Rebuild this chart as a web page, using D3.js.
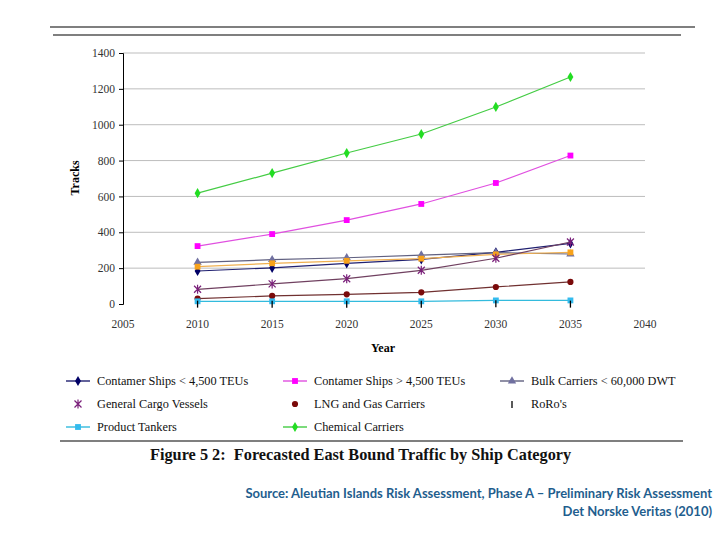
<!DOCTYPE html>
<html>
<head>
<meta charset="utf-8">
<script src="https://cdn.jsdelivr.net/npm/d3@7"></script>
<style>
body { margin: 0; background: #fff; }
svg { display: block; }
</style>
</head>
<body>
<svg id="chart" width="720" height="540"></svg>
<script>
// years on the x axis
var years = [2010, 2015, 2020, 2025, 2030, 2035];
var xTicks = [2005, 2010, 2015, 2020, 2025, 2030, 2035, 2040];
var yTicks = [0, 200, 400, 600, 800, 1000, 1200, 1400];

// series values (tracks)
var containerSmall = [184, 202, 227, 249, 288, 338];
var containerLarge = [323, 390, 468, 558, 675, 828];
var bulkCarriers   = [232, 247, 258, 273, 286, 279];
var generalCargo   = [82, 112, 141, 188, 255, 346];
var lngCarriers    = [30, 45, 54, 65, 95, 123];
var roros          = [2, 2, 2, 2, 4, 2];
var productTankers = [15, 15, 15, 15, 20, 20];
var chemical       = [618, 730, 842, 948, 1099, 1266];
var unlisted       = [208, 227, 241, 253, 277, 288];

var seriesNames = ["Contamer Ships < 4,500 TEUs", "Contamer Ships > 4,500 TEUs",
	"Bulk Carriers < 60,000 DWT", "General Cargo Vessels", "LNG and Gas Carriers",
	"RoRo's", "Product Tankers", "Chemical Carriers"];

var series = [
	{ name: seriesNames[0], values: containerSmall, color: "#000066", line: "#202070", shape: "diamond", legendLine: true },
	{ name: seriesNames[1], values: containerLarge, color: "#ff00ff", line: "#e050e0", shape: "square", legendLine: true },
	{ name: seriesNames[2], values: bulkCarriers, color: "#7070a0", line: "#606080", shape: "triangle", legendLine: true },
	{ name: null, values: unlisted, color: "#f7a21b", line: "#f0b050", shape: "square", legendLine: true },
	{ name: seriesNames[3], values: generalCargo, color: "#7a1f7a", line: "#704060", shape: "star", legendLine: false },
	{ name: seriesNames[4], values: lngCarriers, color: "#7a0a0a", line: "#703030", shape: "circle", legendLine: false },
	{ name: seriesNames[6], values: productTankers, color: "#33bbee", line: "#33bbdd", shape: "square", legendLine: true },
	{ name: seriesNames[5], values: roros, color: "#000000", line: null, shape: "tick", legendLine: false },
	{ name: seriesNames[7], values: chemical, color: "#22dd22", line: "#44cc44", shape: "diamond", legendLine: true }
];

var svg = d3.select("#chart");
var serif = "'Liberation Serif', 'Times New Roman', serif";

var x = d3.scaleLinear().domain([2005, 2040]).range([123, 645]);
var y = d3.scaleLinear().domain([0, 1400]).range([304, 53]);

// frame rules
svg.append("line").attr("x1", 50).attr("x2", 695).attr("y1", 27).attr("y2", 27)
	.attr("stroke", "#000").attr("stroke-width", 1.2);
svg.append("line").attr("x1", 53).attr("x2", 681).attr("y1", 35).attr("y2", 35)
	.attr("stroke", "#000").attr("stroke-width", 1.2);
svg.append("line").attr("x1", 60).attr("x2", 683).attr("y1", 441).attr("y2", 441)
	.attr("stroke", "#000").attr("stroke-width", 1.2);

// gridlines
svg.append("g").selectAll("line")
	.data(yTicks.filter(function(d){ return d > 0; }))
	.enter().append("line")
	.attr("x1", x(2005)).attr("x2", x(2040))
	.attr("y1", function(d){ return y(d); })
	.attr("y2", function(d){ return y(d); })
	.attr("stroke", "#bdbdbd").attr("stroke-width", 1);

// y axis
var yAxis = svg.append("g")
	.attr("transform", "translate(" + x(2005) + ",0)")
	.call(d3.axisLeft(y).tickValues(yTicks).tickFormat(d3.format("d")).tickSize(4).tickPadding(4));
yAxis.select(".domain").attr("stroke", "#000");
yAxis.selectAll(".tick line").attr("stroke", "#000");
yAxis.selectAll("text").attr("font-family", serif).attr("font-size", "11.5px").attr("fill", "#333");

// x axis labels (no axis line in the original)
svg.append("g").selectAll("text")
	.data(xTicks).enter().append("text")
	.attr("x", function(d){ return x(d); })
	.attr("y", 328)
	.attr("text-anchor", "middle")
	.attr("font-family", serif).attr("font-size", "11.5px").attr("fill", "#333")
	.text(function(d){ return d; });

// axis titles
svg.append("text")
	.attr("transform", "translate(79,178) rotate(-90)")
	.attr("text-anchor", "middle")
	.attr("font-family", serif).attr("font-weight", 700).attr("font-size", "12px")
	.text("Tracks");
svg.append("text")
	.attr("x", 383).attr("y", 352)
	.attr("text-anchor", "middle")
	.attr("font-family", serif).attr("font-weight", 700).attr("font-size", "12px")
	.text("Year");

function drawMarker(g, shape, color, cx, cy){
	if (shape === "star") {
		var r = 3.5;
		g.append("path")
			.attr("d", "M" + (cx - r) + "," + (cy - r) + "L" + (cx + r) + "," + (cy + r)
				+ "M" + (cx - r) + "," + (cy + r) + "L" + (cx + r) + "," + (cy - r)
				+ "M" + cx + "," + (cy - r - 1) + "L" + cx + "," + (cy + r + 1))
			.attr("stroke", color).attr("stroke-width", 1.2).attr("fill", "none");
	} else if (shape === "tick") {
		g.append("line")
			.attr("x1", cx).attr("x2", cx).attr("y1", cy - 3).attr("y2", cy + 4)
			.attr("stroke", color).attr("stroke-width", 1.3);
	} else {
		var sym = { diamond: d3.symbolDiamond, square: d3.symbolSquare,
			triangle: d3.symbolTriangle, circle: d3.symbolCircle }[shape];
		var size = { diamond: 30, square: 34, triangle: 30, circle: 30 }[shape];
		g.append("path")
			.attr("d", d3.symbol().type(sym).size(size)())
			.attr("transform", "translate(" + cx + "," + cy + ")")
			.attr("fill", color);
	}
}

var line = d3.line()
	.x(function(d, i){ return x(years[i]); })
	.y(function(d){ return y(d); });

var plot = svg.append("g");
series.forEach(function(s){
	if (s.line) {
		plot.append("path")
			.attr("d", line(s.values))
			.attr("fill", "none")
			.attr("stroke", s.line)
			.attr("stroke-width", 1.2);
	}
	s.values.forEach(function(v, i){
		drawMarker(plot, s.shape, s.color, x(years[i]), y(v));
	});
});

// legend
var legendCols = [66, 283, 500];
var legendRows = [381, 404, 427];
var legendOrder = [series[0], series[1], series[2], series[4], series[5], series[7], series[6], series[8]];
var legend = svg.append("g");
legendOrder.forEach(function(s, i){
	var lx = legendCols[i % 3], ly = legendRows[Math.floor(i / 3)];
	if (s.legendLine) {
		legend.append("line").attr("x1", lx).attr("x2", lx + 24)
			.attr("y1", ly).attr("y2", ly)
			.attr("stroke", s.line).attr("stroke-width", 1.4);
	}
	drawMarker(legend, s.shape, s.color, lx + 12, ly);
	legend.append("text")
		.attr("x", lx + 31).attr("y", ly + 4)
		.attr("font-family", serif).attr("font-size", "12.3px").attr("fill", "#111")
		.text(s.name);
});

// caption
svg.append("text")
	.attr("x", 150).attr("y", 460)
	.attr("font-family", serif).attr("font-weight", 700).attr("font-size", "16.3px")
	.attr("fill", "#111")
	.style("white-space", "pre")
	.text("Figure 5 2:  Forecasted East Bound Traffic by Ship Category");

// source
var src = svg.append("text")
	.attr("text-anchor", "end")
	.attr("font-family", "Lato, 'Open Sans', sans-serif").attr("font-weight", 700)
	.attr("font-size", "13px").attr("fill", "#1f5e8e");
src.append("tspan").attr("x", 712).attr("y", 498)
	.text("Source: Aleutian Islands Risk Assessment, Phase A \u2013 Preliminary Risk Assessment");
src.append("tspan").attr("x", 712).attr("y", 516)
	.text("Det Norske Veritas (2010)");
</script>
</body>
</html>
